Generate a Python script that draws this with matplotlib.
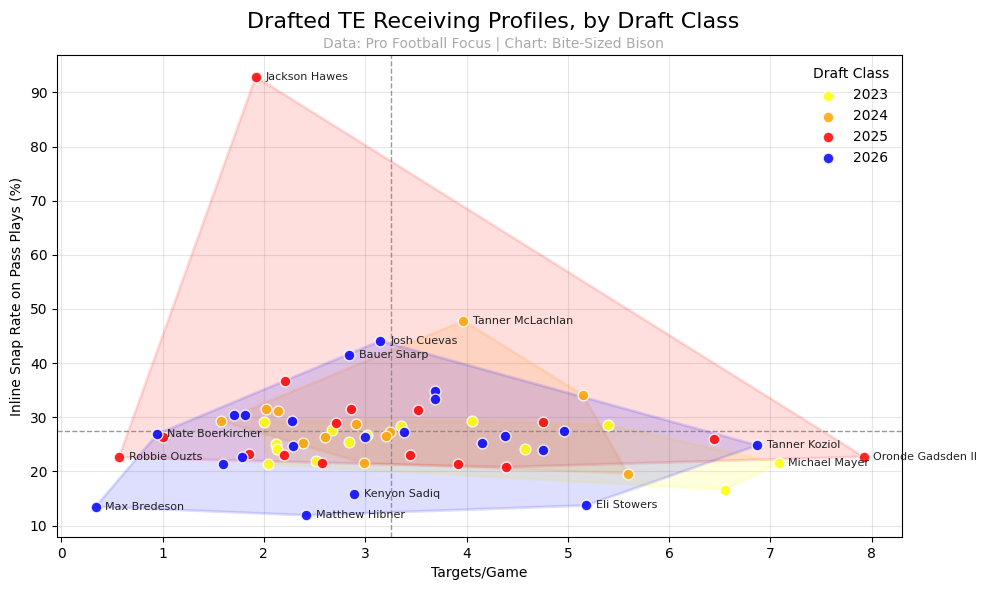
import numpy as np
import pandas as pd
import matplotlib
matplotlib.use("Agg")
import matplotlib.pyplot as plt

# values
class_2023_x = [7.08, 6.55, 5.40, 4.58, 4.05, 3.35, 2.00, 2.12, 2.13, 2.04, 2.51, 2.67, 2.84, 3.02]
class_2023_y = [21.5, 16.6, 28.6, 24.1, 29.3, 28.4, 29.2, 25.1, 24.2, 21.3, 21.9, 27.6, 25.5, 26.8]
class_2023_names = ["Michael Mayer"] + [""] * 13

class_2024_x = [3.97, 5.15, 5.59, 3.24, 3.21, 1.58, 2.02, 2.14, 2.39, 2.60, 2.91, 2.99]
class_2024_y = [47.8, 34.1, 19.6, 27.3, 26.6, 29.3, 31.6, 31.1, 25.3, 26.3, 28.7, 21.5]
class_2024_names = ["Tanner McLachlan"] + [""] * 11

class_2025_x = [1.92, 7.92, 0.57, 1.00, 2.21, 1.85, 2.20, 2.71, 2.86, 2.57, 3.52, 3.44, 3.92, 4.39, 4.75, 6.44]
class_2025_y = [92.9, 22.7, 22.6, 26.3, 36.7, 23.2, 23.1, 28.9, 31.6, 21.6, 31.3, 23.1, 21.3, 20.8, 29.1, 26.0]
class_2025_names = ["Jackson Hawes", "Oronde Gadsden II", "Robbie Ouzts"] + [""] * 13

class_2026_x = [0.34, 2.42, 2.89, 0.95, 2.84, 3.15, 5.18, 6.87, 1.71, 1.81, 2.28, 2.29, 1.60, 1.78,
                3.00, 3.38, 3.69, 3.69, 4.15, 4.38, 4.75, 4.96]
class_2026_y = [13.5, 11.9, 15.8, 26.9, 41.5, 44.1, 13.7, 24.8, 30.4, 30.5, 29.3, 24.7, 21.4, 22.6,
                26.3, 27.3, 34.9, 33.3, 25.2, 26.5, 23.9, 27.4]
class_2026_names = ["Max Bredeson", "Matthew Hibner", "Kenyon Sadiq", "Nate Boerkircher",
                    "Bauer Sharp", "Josh Cuevas", "Eli Stowers", "Tanner Koziol"] + [""] * 14

classes = ["2023", "2024", "2025", "2026"]
colors = {"2023": "yellow", "2024": "orange", "2025": "red", "2026": "blue"}

frames = []
for cls, xs, ys, names in [("2023", class_2023_x, class_2023_y, class_2023_names),
                           ("2024", class_2024_x, class_2024_y, class_2024_names),
                           ("2025", class_2025_x, class_2025_y, class_2025_names),
                           ("2026", class_2026_x, class_2026_y, class_2026_names)]:
    frames.append(pd.DataFrame({"x": xs, "y": ys, "name": names, "cls": cls}))
df = pd.concat(frames, ignore_index=True)


def hull(points):
    # monotone chain convex hull
    pts = sorted(set(points))
    if len(pts) < 3:
        return pts

    def cross(o, a, b):
        return (a[0] - o[0]) * (b[1] - o[1]) - (a[1] - o[1]) * (b[0] - o[0])

    lower = []
    for p in pts:
        while len(lower) >= 2 and cross(lower[-2], lower[-1], p) <= 0:
            lower.pop()
        lower.append(p)
    upper = []
    for p in reversed(pts):
        while len(upper) >= 2 and cross(upper[-2], upper[-1], p) <= 0:
            upper.pop()
        upper.append(p)
    return lower[:-1] + upper[:-1]


fig, ax = plt.subplots(figsize=(9.87, 5.89), dpi=100)
fig.subplots_adjust(left=0.058, right=0.914, top=0.907, bottom=0.088)

for cls in classes:
    sub = df[df["cls"] == cls]
    h = np.array(hull(list(zip(sub["x"], sub["y"]))))
    ax.fill(h[:, 0], h[:, 1], color=colors[cls], alpha=0.13, lw=2, zorder=1)

for cls in classes:
    sub = df[df["cls"] == cls]
    ax.scatter(sub["x"], sub["y"], s=60, color=colors[cls], alpha=0.85,
               edgecolor="white", linewidth=1, label=cls, zorder=3)

for _, r in df[df["name"] != ""].iterrows():
    ax.annotate(r["name"], (r["x"], r["y"]), xytext=(7, 0), textcoords="offset points",
                fontsize=8, va="center", color="#222222", zorder=4)

ax.axvline(df["x"].mean(), color="grey", ls="--", lw=1, alpha=0.8, zorder=2)
ax.axhline(df["y"].mean(), color="grey", ls="--", lw=1, alpha=0.8, zorder=2)

ax.grid(True, alpha=0.3)
ax.set_axisbelow(True)
ax.set_xlabel("Targets/Game")
ax.set_ylabel("Inline Snap Rate on Pass Plays (%)")
ax.legend(title="Draft Class", frameon=False, loc="upper right")

fig.suptitle("Drafted TE Receiving Profiles, by Draft Class", fontsize=16, y=0.98)
fig.text(0.5, 0.92, "Data: Pro Football Focus | Chart: Bite-Sized Bison",
         ha="center", fontsize=10, color="darkgrey")

fig.savefig("out.png")
